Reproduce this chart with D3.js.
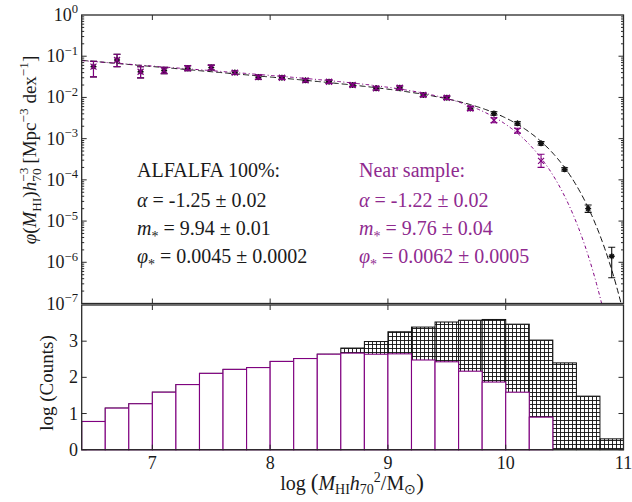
<!DOCTYPE html>
<html><head><meta charset="utf-8">
<script src="https://cdn.jsdelivr.net/npm/d3@7"></script>
<style>body{margin:0;background:#fff;} svg{display:block;}</style>
</head><body><svg id="c" width="632" height="502"></svg>
<script>
// ---------- data ----------
const binCenters = [6.5,6.7,6.9,7.1,7.3,7.5,7.7,7.9,8.1,8.3,8.5,8.7,8.9,9.1,9.3,9.5,9.7,9.9,10.1,10.3,10.5,10.7,10.9];
const binWidth = 0.2;
// Mass function, ALFALFA 100%
const phiAll = [0.056,0.081,0.042,0.045,0.051,0.053,0.040,0.031,0.030,0.026,0.024,0.020,0.0166,0.0172,0.0115,0.0098,0.0054,0.0041,0.00235,0.00077,0.00018,0.000020,0.0000014];
const errUpAll = [0.13,0.14,0.12,0.08,0.06,0.06,0.04,0.05,0.04,0.04,0.04,0.04,0.04,0.04,0.04,0.04,0.04,0.04,0.04,0.04,0.04,0.09,0.22];
const errDnAll = [0.25,0.16,0.15,0.08,0.06,0.06,0.04,0.05,0.04,0.04,0.04,0.04,0.04,0.04,0.04,0.04,0.04,0.04,0.04,0.04,0.04,0.09,0.52];
// Mass function, near sample
const phiNear = [0.056,0.081,0.042,0.045,0.051,0.053,0.040,0.031,0.030,0.026,0.024,0.020,0.0166,0.0172,0.0115,0.0098,0.0054,0.0028,0.00156,0.00029];
const errUpNear = [0.13,0.14,0.12,0.08,0.06,0.06,0.04,0.05,0.04,0.04,0.04,0.04,0.04,0.04,0.04,0.04,0.05,0.06,0.06,0.16];
const errDnNear = [0.25,0.16,0.15,0.08,0.06,0.06,0.04,0.05,0.04,0.04,0.04,0.04,0.04,0.04,0.04,0.04,0.05,0.06,0.06,0.16];
// Schechter fit parameters [alpha, m*, phi*]
const fitAll = [-1.25, 9.94, 0.0045];
const fitNear = [-1.22, 9.76, 0.0062];
// histogram log(Counts)
const countsAll = [0.78,1.15,1.27,1.59,1.80,2.11,2.22,2.27,2.44,2.52,2.64,2.81,2.99,3.26,3.39,3.53,3.58,3.60,3.47,3.03,2.40,1.48,0.30];
const countsNear = [0.78,1.15,1.27,1.59,1.80,2.11,2.22,2.27,2.44,2.52,2.64,2.67,2.64,2.65,2.48,2.43,2.17,1.87,1.59,0.90];
const xTicks = [7,8,9,10,11];
const yTopTicks = [1e-7,1e-6,1e-5,1e-4,1e-3,1e-2,1e-1,1];
const yBotTicks = [0,1,2,3];

// ---------- setup ----------
const svg = d3.select('#c');
const FONT = '"Liberation Serif", "Times New Roman", serif';
const PURPLE = '#800080', PTEXT = '#8f2a8f', INK = '#1a1a1a';
const x = d3.scaleLinear().domain([6.4, 11]).range([81.7, 623.5]);
const yT = d3.scaleLog().domain([1e-7, 1]).range([303.5, 15]);
const yB = d3.scaleLinear().domain([0, 4]).range([449.7, 305]);

const defs = svg.append('defs');
const pat = defs.append('pattern').attr('id','hatch').attr('patternUnits','userSpaceOnUse')
  .attr('width',4).attr('height',4);
pat.append('rect').attr('width',4).attr('height',4).attr('fill','#fff');
pat.append('path').attr('d','M0.5,0V4M0,0.5H4').attr('stroke','#111').attr('stroke-width',0.9);
defs.append('clipPath').attr('id','clipT').append('rect')
  .attr('x',x(6.4)).attr('y',yT(1)).attr('width',x(11)-x(6.4)).attr('height',yT(1e-7)-yT(1));

function rich(textSel, segs, base) {
  let cur = 0;
  segs.forEach(s => {
    const small = s.sup || s.sub;
    let target = s.sup ? -0.42*base : (s.sub ? 0.25*base : 0);
    if (s.off !== undefined) target = s.off*base;
    const ts = textSel.append('tspan').text(s.t)
      .attr('font-size', s.fs ? s.fs : (small ? base*0.7 : base))
      .attr('dy', target - cur);
    if (s.dx) ts.attr('dx', s.dx);
    if (s.i) ts.attr('font-style','italic');
    cur = target;
  });
}

// ---------- top panel ----------
const gT = svg.append('g');
function schechter(p, m) {
  const t = Math.pow(10, m - p[1]);
  return Math.LN10 * p[2] * Math.pow(t, p[0] + 1) * Math.exp(-t);
}
const ms = d3.range(6.4, 11.0001, 0.01);
const line = d3.line().x(d => x(d[0])).y(d => yT(Math.max(d[1], 1e-9)));
gT.append('path').attr('clip-path','url(#clipT)')
  .attr('d', line(ms.map(m => [m, schechter(fitAll, m)])))
  .attr('fill','none').attr('stroke','#111').attr('stroke-width',1).attr('stroke-dasharray','6,3');
gT.append('path').attr('clip-path','url(#clipT)')
  .attr('d', line(ms.map(m => [m, schechter(fitNear, m)])))
  .attr('fill','none').attr('stroke',PURPLE).attr('stroke-width',1).attr('stroke-dasharray','3.5,2.5,1,2.5');

function points(phi, up, dn, color, marker) {
  const g = gT.append('g').attr('stroke', color).attr('stroke-width', 1.1).attr('fill','none');
  phi.forEach((v, i) => {
    const cx = x(binCenters[i]);
    const cy = yT(v);
    const yh = yT(v * Math.pow(10, up[i]));
    const yl = yT(v / Math.pow(10, dn[i]));
    g.append('path').attr('d', `M${cx},${yh}V${yl}M${cx-3.5},${yh}H${cx+3.5}M${cx-3.5},${yl}H${cx+3.5}`);
    const s = 3;
    if (marker === 'star') {
      g.append('path').attr('d', `M${cx-s},${cy}H${cx+s}M${cx},${cy-s}V${cy+s}M${cx-s*0.7},${cy-s*0.7}L${cx+s*0.7},${cy+s*0.7}M${cx-s*0.7},${cy+s*0.7}L${cx+s*0.7},${cy-s*0.7}`)
        .attr('stroke-width', 1.4);
    } else {
      g.append('path').attr('d', `M${cx-s},${cy-s}L${cx+s},${cy+s}M${cx-s},${cy+s}L${cx+s},${cy-s}`).attr('stroke-width',1.2);
    }
  });
}
points(phiAll, errUpAll, errDnAll, '#111', 'star');
points(phiNear, errUpNear, errDnNear, PURPLE, 'x');

// legend texts
const FS = 20;
function block(x0, ys, color, lines) {
  lines.forEach((segs, k) => {
    const t = svg.append('text').attr('x', x0).attr('y', ys[k]).attr('fill', color)
      .attr('font-family', FONT).attr('font-size', FS);
    rich(t, segs, FS);
  });
}
const lineYs = [177, 207, 235, 263];
block(137, lineYs, INK, [
  [{t:'ALFALFA 100%:'}],
  [{t:'α',i:1},{t:' = -1.25 ± 0.02'}],
  [{t:'m',i:1},{t:'*',sub:1,off:0.3},{t:' = 9.94 ± 0.01',off:0}],
  [{t:'φ',i:1},{t:'*',sub:1,off:0.3},{t:' = 0.0045 ± 0.0002',off:0}]
]);
block(359, lineYs, PTEXT, [
  [{t:'Near sample:'}],
  [{t:'α',i:1},{t:' = -1.22 ± 0.02'}],
  [{t:'m',i:1},{t:'*',sub:1,off:0.3},{t:' = 9.76 ± 0.04',off:0}],
  [{t:'φ',i:1},{t:'*',sub:1,off:0.3},{t:' = 0.0062 ± 0.0005',off:0}]
]);

// ---------- bottom panel ----------
const gB = svg.append('g');
const x0 = d => x(binCenters[d] - binWidth/2);
const bw = x(6.6) - x(6.4);
gB.selectAll('rect.all').data(countsAll).join('rect')
  .attr('x', (d,i) => x0(i)).attr('width', bw)
  .attr('y', d => yB(d)).attr('height', d => yB(0) - yB(d))
  .attr('fill','url(#hatch)').attr('stroke','#111').attr('stroke-width',1);
gB.selectAll('rect.near').data(countsNear).join('rect')
  .attr('x', (d,i) => x0(i)).attr('width', bw)
  .attr('y', d => yB(d)).attr('height', d => yB(0) - yB(d))
  .attr('fill','#fff').attr('stroke',PURPLE).attr('stroke-width',1.1);

// ---------- frames & ticks ----------
const FR = '#2a2a2a';
function frame(top, bottom) {
  svg.append('rect').attr('x', x(6.4)).attr('y', top).attr('width', x(11)-x(6.4)).attr('height', bottom-top)
    .attr('fill','none').attr('stroke',FR).attr('stroke-width',1.3);
}
frame(yT(1), yT(1e-7));
frame(yB(4), yB(0));
const tk = svg.append('g').attr('stroke',FR).attr('stroke-width',1);
[7,8,9,10].forEach(v => {
  [[yT(1),1],[yT(1e-7),-1],[yB(4),1],[yB(0),-1]].forEach(([yy,dir]) => {
    tk.append('line').attr('x1',x(v)).attr('x2',x(v)).attr('y1',yy).attr('y2',yy+dir*5);
  });
});
for (let d = -7; d < 0; d++) {
  for (let k = 1; k <= 9; k++) {
    const v = k * Math.pow(10, d);
    const len = k === 1 ? 5 : 2.5;
    tk.append('line').attr('x1',x(6.4)).attr('x2',x(6.4)+len).attr('y1',yT(v)).attr('y2',yT(v));
    tk.append('line').attr('x1',x(11)).attr('x2',x(11)-len).attr('y1',yT(v)).attr('y2',yT(v));
  }
}
yBotTicks.forEach(v => {
  tk.append('line').attr('x1',x(6.4)).attr('x2',x(6.4)+5).attr('y1',yB(v)).attr('y2',yB(v));
  tk.append('line').attr('x1',x(11)).attr('x2',x(11)-5).attr('y1',yB(v)).attr('y2',yB(v));
});

// tick labels
const TL = 18;
xTicks.forEach(v => {
  svg.append('text').attr('x', x(v)).attr('y', 469).attr('text-anchor','middle')
    .attr('font-family',FONT).attr('font-size',TL).attr('fill',INK).text(v);
});
yBotTicks.forEach(v => {
  svg.append('text').attr('x', 78).attr('y', yB(v)+6).attr('text-anchor','end')
    .attr('font-family',FONT).attr('font-size',TL).attr('fill',INK).text(v);
});
yTopTicks.forEach(v => {
  const e = Math.round(Math.log10(v));
  const t = svg.append('text').attr('x', 78).attr('y', yT(v)+6).attr('text-anchor','end')
    .attr('font-family',FONT).attr('font-size',TL).attr('fill',INK);
  rich(t, [{t:'10'},{t: e === 0 ? '0' : '−' + (-e), sup:1}], TL);
});

// axis titles
const xl = svg.append('text').attr('x', 352).attr('y', 490).attr('text-anchor','middle')
  .attr('font-family',FONT).attr('font-size',20).attr('fill',INK);
rich(xl, [{t:'log '},{t:'(',fs:23},{t:'M',i:1},{t:'HI',sub:1,off:0.2},{t:'h',i:1},{t:'70',sub:1,off:0.2},{t:'2',sup:1},{t:'/M'},{t:'⊙',sub:1,off:0.2},{t:')',fs:23}], 20);

const yl1 = svg.append('text').attr('transform','translate(36,150) rotate(-90)').attr('text-anchor','middle')
  .attr('font-family',FONT).attr('font-size',19).attr('fill',INK);
rich(yl1, [{t:'φ',i:1},{t:'('},{t:'M',i:1},{t:'HI',sub:1},{t:')'},{t:'h',i:1},{t:'−3',sup:1},{t:'70',sub:1,dx:-14},{t:' [Mpc'},{t:'−3',sup:1},{t:' dex'},{t:'−1',sup:1},{t:']'}], 19);

const yl2 = svg.append('text').attr('transform','translate(53,383) rotate(-90)').attr('text-anchor','middle')
  .attr('font-family',FONT).attr('font-size',19).attr('fill',INK).text('log (Counts)');
</script></body></html>
